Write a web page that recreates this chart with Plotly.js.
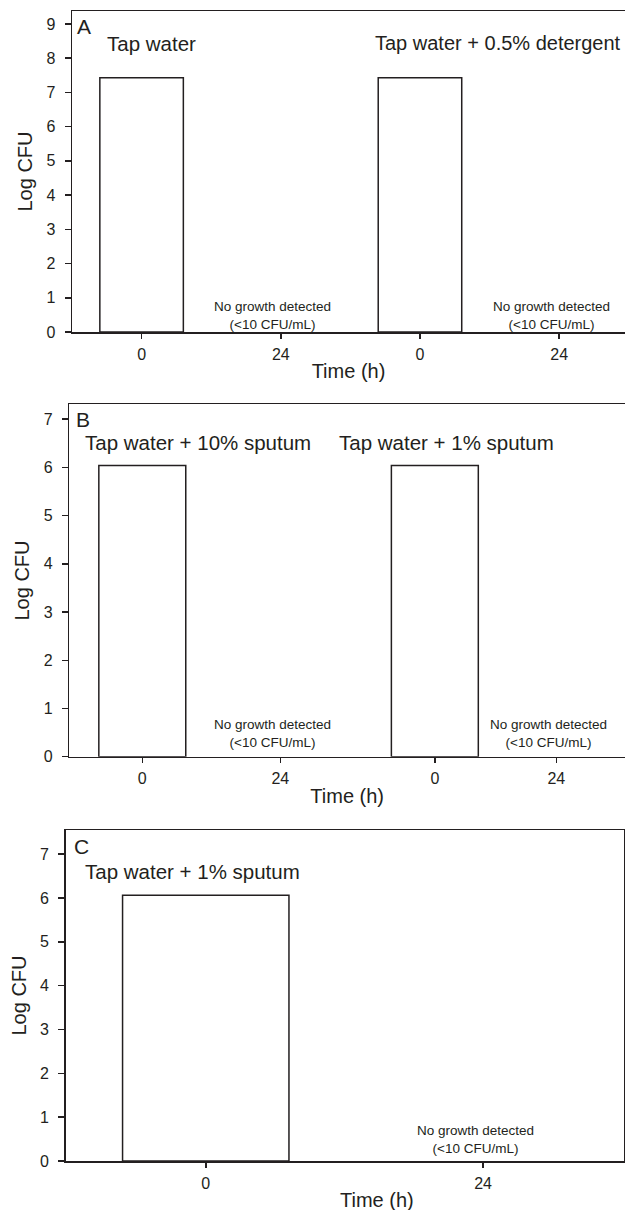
<!DOCTYPE html>
<html>
<head>
<meta charset="utf-8">
<script src="https://cdn.plot.ly/plotly-3.0.1.min.js"></script>
<style>html,body{margin:0;padding:0;background:#fff;}#chart{width:625px;height:1210px;}</style>
</head>
<body>
<div id="chart"></div>
<script>
// ---- data ----
const panelLabels = ['A', 'B', 'C'];
const groupsA = ['Tap water', 'Tap water + 0.5% detergent'];
const groupsB = ['Tap water + 10% sputum', 'Tap water + 1% sputum'];
const groupsC = ['Tap water + 1% sputum'];
const tickLabelsA = ['0', '24', '0', '24'];
const tickLabelsB = ['0', '24', '0', '24'];
const tickLabelsC = ['0', '24'];
const positionsA = [0, 1, 2, 3];
const positionsB = [0, 1, 2.12, 3];
const positionsC = [0, 1];
const logCfuA = [7.43, null, 7.43, null];
const logCfuB = [6.04, null, 6.04, null];
const logCfuC = [6.06, null];
const noGrowthText = 'No growth detected<br>(<10 CFU/mL)';
const xTitle = 'Time (h)';
const yTitle = 'Log CFU';

// ---- layout helpers ----
const W = 625, H = 1210;
const px = v => v / W;
const py = v => 1 - v / H;
const FONT = '"Liberation Sans", Arial, Helvetica, sans-serif';
const INK = '#231f20';

function barTrace(x, y, width, xa, ya) {
  return {
    type: 'bar', x: x, y: y, width: width, xaxis: xa, yaxis: ya,
    marker: {color: '#ffffff', line: {color: INK, width: 1.5}},
    showlegend: false, hoverinfo: 'x+y'
  };
}

const data = [
  barTrace(positionsA, logCfuA, 0.6, 'x', 'y'),
  barTrace(positionsB, logCfuB, 0.63, 'x2', 'y2'),
  barTrace(positionsC, logCfuC, 0.6, 'x3', 'y3')
];

function xAxis(domain, range, vals, labels, anchor, withTitle) {
  return {
    domain: domain, range: range, anchor: anchor,
    tickmode: 'array', tickvals: vals, ticktext: labels,
    ticks: 'outside', ticklen: 5, tickwidth: 1.5, tickcolor: INK,
    ticklabelstandoff: 2,
    showline: true, linewidth: 1.5, linecolor: INK, mirror: true,
    showgrid: false, zeroline: false, fixedrange: true,
    tickfont: {family: FONT, size: 16, color: INK},
    title: withTitle ? {text: xTitle, font: {family: FONT, size: 20, color: INK}, standoff: 2} : {text: ''}
  };
}
function yAxis(domain, range, anchor, mirror) {
  return {
    domain: domain, range: range, anchor: anchor,
    dtick: 1, tick0: 0,
    ticks: 'outside', ticklen: 6, tickwidth: 1.5, tickcolor: INK,
    ticklabelstandoff: 6,
    showline: true, linewidth: 1.5, linecolor: INK, mirror: mirror,
    showgrid: false, zeroline: false, fixedrange: true,
    tickfont: {family: FONT, size: 16, color: INK},
    title: {text: yTitle, font: {family: FONT, size: 20, color: INK}, standoff: 8}
  };
}

const annotations = [];
function label(text, xpx, ypx, size) {
  annotations.push({
    text: text, xref: 'paper', yref: 'paper', x: px(xpx), y: py(ypx),
    xanchor: 'left', yanchor: 'middle', showarrow: false,
    font: {family: FONT, size: size, color: INK}
  });
}
function noGrowth(positions, values, xa, ypx) {
  positions.forEach((p, i) => {
    if (values[i] === null) {
      annotations.push({
        text: noGrowthText, xref: xa, yref: 'paper', x: p, y: py(ypx),
        xshift: -8, xanchor: 'center', yanchor: 'middle', align: 'center',
        showarrow: false, font: {family: FONT, size: 13.5, color: INK}
      });
    }
  });
}

// panel A
label(panelLabels[0], 75, 26, 21);
label(groupsA[0], 105, 43, 20.5);
label(groupsA[1], 373, 43, 20);
noGrowth(positionsA, logCfuA, 'x', 315);
// panel B
label(panelLabels[1], 74, 420, 21);
label(groupsB[0], 83, 442, 20.5);
label(groupsB[1], 337, 442, 20.5);
noGrowth(positionsB, logCfuB, 'x2', 733);
// panel C
label(panelLabels[2], 72, 846, 21);
label(groupsC[0], 83, 871, 20.5);
noGrowth(positionsC, logCfuC, 'x3', 1139);
// panel C x-axis title (offset to the right in the original)
annotations.push({
  text: xTitle, xref: 'paper', yref: 'paper', x: px(377), y: py(1200),
  xanchor: 'center', yanchor: 'middle', showarrow: false,
  font: {family: FONT, size: 20, color: INK}
});

const layout = {
  width: W, height: H,
  margin: {l: 0, r: 0, t: 0, b: 0},
  paper_bgcolor: '#ffffff', plot_bgcolor: '#ffffff',
  font: {family: FONT, color: INK},
  bargap: 0,
  xaxis: xAxis([px(72), 1], [-0.5, 3.473], positionsA, tickLabelsA, 'y', true),
  yaxis: yAxis([py(332), py(11)], [0, 9.38], 'x', false),
  xaxis2: xAxis([px(69.3), 1], [-0.529, 3.498], positionsB, tickLabelsB, 'y2', true),
  yaxis2: yAxis([py(756.7), py(404.3)], [0, 7.31], 'x2', false),
  xaxis3: xAxis([px(65.7), px(624)], [-0.505, 1.508], positionsC, tickLabelsC, 'y3', false),
  yaxis3: yAxis([py(1161), py(830)], [0, 7.55], 'x3', true),
  annotations: annotations
};

Plotly.newPlot('chart', data, layout, {displayModeBar: false, staticPlot: true});
</script>
</body>
</html>
